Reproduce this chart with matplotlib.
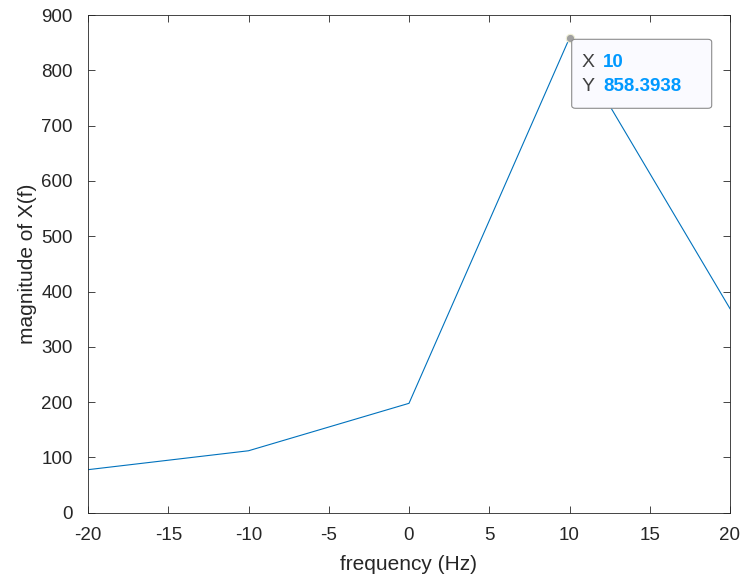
import numpy as np
import matplotlib
matplotlib.use('Agg')
from matplotlib import pyplot as plt
from matplotlib.patches import FancyBboxPatch

freq = [-20, -10, 0, 10, 20]
mag = [77.8, 112.0, 197.8, 858.3938, 369.0]
xticks = [-20, -15, -10, -5, 0, 5, 10, 15, 20]
yticks = [0, 100, 200, 300, 400, 500, 600, 700, 800, 900]

plt.rcParams['font.family'] = ['Liberation Sans', 'DejaVu Sans']
plt.rcParams['font.size'] = 13.5

fig = plt.figure(figsize=(7.42, 5.79), dpi=100)
ax = fig.add_axes([88 / 742, 1 - 512.7 / 579, 642 / 742, 497.7 / 579])

ax.plot(freq, mag, color='#0072BD', lw=0.8)
ax.set_xlim(-20, 20)
ax.set_ylim(0, 900)
ax.set_xticks(xticks)
ax.set_yticks(yticks)
ax.set_xticklabels([str(t) for t in xticks])
ax.set_xlabel('frequency (Hz)', color='#262626', fontsize=15, labelpad=8)
ax.set_ylabel('magnitude of X(f)', color='#262626', fontsize=15, labelpad=3)

for s in ax.spines.values():
    s.set_color('#262626')
    s.set_linewidth(0.6)
ax.tick_params(direction='in', length=5, width=0.6, color='#262626',
               labelcolor='#262626', top=True, right=True)
ax.tick_params(axis='x', pad=10)
ax.tick_params(axis='y', pad=11)

# data tip
ax.plot([freq[3]], [mag[3]], 'o', ms=6, mfc='#a0a0a0', mec='#f0f0d8', mew=0.8,
        clip_on=False, zorder=5)
tip = FancyBboxPatch((571.7 / 742, 1 - 108.3 / 579), 140 / 742, 69 / 579,
                     boxstyle='round,pad=0,rounding_size=0.005',
                     transform=fig.transFigure, fc='#fafaff', ec='#8c8c8c',
                     lw=0.8, zorder=6)
fig.patches.append(tip)
tip_rows = [('X', '10', 62.7), ('Y', '858.3938', 86.7)]
for name, val, ypix in tip_rows:
    fig.text(581.5 / 742, 1 - ypix / 579, name, va='center', ha='left',
             color='#404040', fontsize=14, zorder=10)
    fig.text(603 / 742, 1 - ypix / 579, val, va='center', ha='left',
             color='#0099FF', fontsize=13.5, fontweight='bold', zorder=10)

fig.savefig('out.png', dpi=100)
